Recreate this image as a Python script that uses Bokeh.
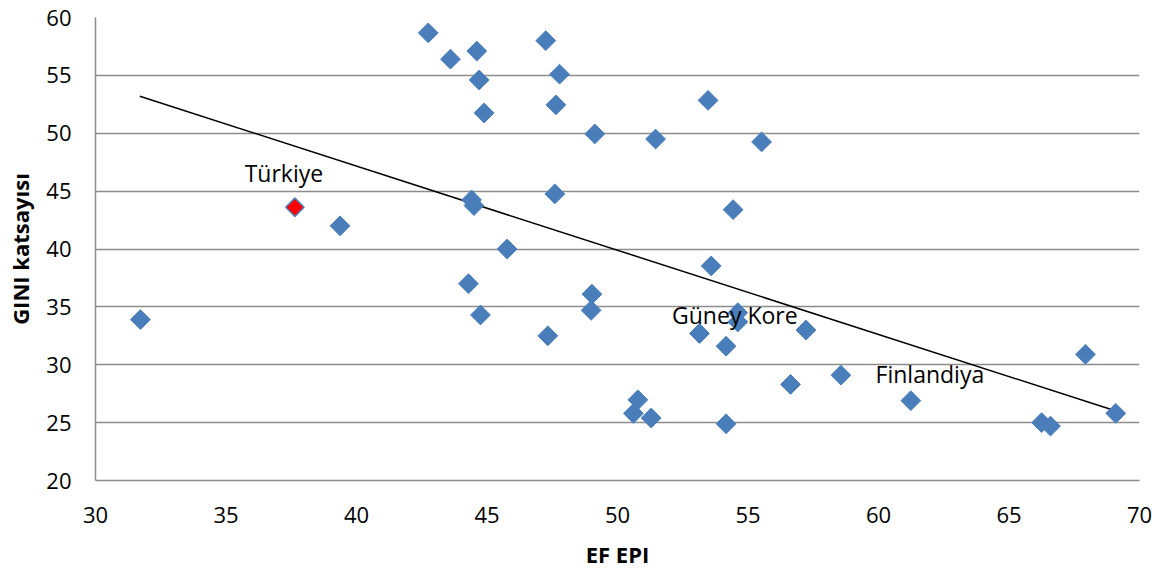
import math
from bokeh.plotting import figure
from bokeh.models import ColumnDataSource, FixedTicker
from bokeh.core.properties import value
from bokeh.embed import file_html
from bokeh.resources import INLINE

# ---- data ----
ef_epi = [31.72, 39.37, 42.75, 43.60, 44.61, 44.70, 44.89, 44.41, 44.50, 45.77,
          44.29, 44.75, 47.25, 47.78, 47.64, 47.60, 47.33, 49.13, 49.02, 48.99,
          51.46, 50.78, 50.61, 51.29, 53.47, 53.59, 53.14, 54.16, 54.16, 54.43,
          54.61, 54.61, 55.52, 57.22, 56.63, 58.56, 61.24, 66.25, 66.59, 67.93,
          69.09]
gini = [33.9, 42.0, 58.67, 56.4, 57.1, 54.6, 51.75, 44.24, 43.75, 40.0,
        37.0, 34.3, 58.0, 55.1, 52.45, 44.76, 32.5, 49.94, 36.1, 34.7,
        49.5, 26.97, 25.8, 25.4, 52.84, 38.54, 32.7, 31.6, 24.9, 43.4,
        34.5, 33.7, 49.25, 33.0, 28.3, 29.1, 26.9, 25.0, 24.7, 30.9,
        25.8]

turkey_x = [37.64]
turkey_y = [43.6]

label_names = ["Türkiye", "Güney Kore", "Finlandiya"]
label_x = [37.64, 54.61, 61.24]
label_y = [43.6, 34.5, 26.9]

trend_x = [31.7, 69.1]
trend_y = [53.2, 26.0]

x_ticks = [30, 35, 40, 45, 50, 55, 60, 65, 70]
y_ticks = [20, 25, 30, 35, 40, 45, 50, 55, 60]

# ---- styling ----
FONT = "Open Sans"
BLUE = "#4a7ebb"
GRID = "#8c8c8c"

p = figure(frame_width=1044, frame_height=463,
           x_range=(30, 70), y_range=(20, 60),
           output_backend="svg", toolbar_location=None,
           min_border_left=95, min_border_right=23,
           min_border_top=17, min_border_bottom=90)
p.outline_line_color = None
p.background_fill_color = "white"
p.border_fill_color = "white"

p.xgrid.grid_line_color = None
p.ygrid.grid_line_color = GRID
p.ygrid.grid_line_width = 1.5
p.ygrid.ticker = FixedTicker(ticks=y_ticks)

for ax in (p.xaxis[0], p.yaxis[0]):
    ax.axis_line_color = GRID
    ax.axis_line_width = 1.5
    ax.major_tick_line_color = None
    ax.minor_tick_line_color = None
    ax.major_tick_out = 0
    ax.major_tick_in = 0
    ax.minor_tick_out = 0
    ax.minor_tick_in = 0
    ax.major_label_text_font = FONT
    ax.major_label_text_font_size = "22px"
    ax.major_label_text_color = "black"
    ax.axis_label_text_font = FONT
    ax.axis_label_text_font_size = "22px"
    ax.axis_label_text_font_style = "bold"
    ax.axis_label_text_color = "black"

p.xaxis.ticker = FixedTicker(ticks=x_ticks)
p.yaxis.ticker = FixedTicker(ticks=y_ticks)
p.xaxis.axis_label = "EF EPI"
p.yaxis.axis_label = "GINI katsayısı"
p.xaxis.major_label_standoff = 26
p.yaxis.major_label_standoff = 24
p.xaxis.axis_label_standoff = 13
p.yaxis.axis_label_standoff = 8

# trend line
p.line(trend_x, trend_y, line_color="black", line_width=1.5)

# points
p.scatter(ef_epi, gini, marker="square", angle=math.pi / 4, size=14,
          fill_color=BLUE, line_color=BLUE, line_width=1)
p.scatter(turkey_x, turkey_y, marker="square", angle=math.pi / 4, size=13,
          fill_color="#ff0000", line_color=BLUE, line_width=1.5)

# labels
lab = ColumnDataSource(dict(x=label_x, y=label_y, t=label_names,
                            dx=[-11, -3, 19], dy=[-34, 2, -27]))
p.text(x="x", y="y", text="t", x_offset="dx", y_offset="dy", source=lab,
       text_align="center", text_baseline="alphabetic",
       text_font=value(FONT), text_font_size="23px", text_color="black")

open("out.html", "w").write(file_html(p, INLINE))
